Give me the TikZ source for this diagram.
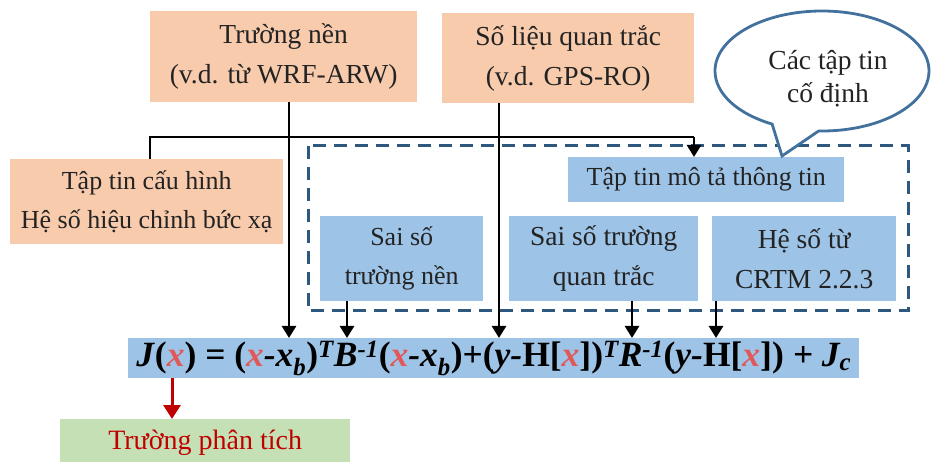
\documentclass[tikz,border=0pt]{standalone}
\usepackage{fontspec}
\setmainfont{Liberation Serif}
\usetikzlibrary{arrows.meta,shapes.callouts,calc}
\definecolor{peach}{RGB}{248,203,173}
\definecolor{skyfill}{RGB}{157,195,230}
\definecolor{mint}{RGB}{197,224,180}
\definecolor{framecol}{RGB}{46,88,125}
\definecolor{bubblecol}{RGB}{65,113,156}
\definecolor{darkred}{RGB}{192,0,0}
\definecolor{xred}{RGB}{226,88,88}
\definecolor{ink}{RGB}{35,35,35}

\begin{document}
\begin{tikzpicture}[x=1pt,y=-1pt,
  box/.style={anchor=north west, inner sep=0pt, align=center,
    font=\fontsize{26}{39}\selectfont, text=ink},
  bigtext/.style={font=\fontsize{27.5}{40}\selectfont},
  peachbox/.style={box, fill=peach},
  bluebox/.style={box, fill=skyfill},
  conn/.style={line width=2.6pt, draw=black},
  arr/.style={conn, -{Triangle[length=12pt,width=14pt]}},
  redarr/.style={line width=3pt, draw=darkred, -{Triangle[length=14pt,width=17pt]}},
  fixedframe/.style={draw=framecol, line width=3pt, dash pattern=on 13pt off 8pt}
]
\useasboundingbox (0,0) rectangle (932,462);

% input boxes
\node[peachbox, bigtext, minimum width=267, minimum height=91] (tn) at (150,11)
  {Trường nền\\(v.d. từ WRF-ARW)};
\node[peachbox, bigtext, minimum width=252, minimum height=90] (obs) at (442,13)
  {Số liệu quan trắc\\(v.d. GPS-RO)};
\node[peachbox, minimum width=273, minimum height=85] (cfg) at (10,159)
  {Tập tin cấu hình\\Hệ số hiệu chỉnh bức xạ};

% frame around the fixed files
\draw[fixedframe] (308,146) rectangle (908,311);

\node[bluebox, minimum width=276, minimum height=45] (info) at (568,157)
  {Tập tin mô tả thông tin};
\node[bluebox, minimum width=163, minimum height=85] (berr) at (320,216)
  {Sai số\\trường nền};
\node[bluebox, bigtext, minimum width=189, minimum height=85] (oerr) at (509,216)
  {Sai số trường\\quan trắc};
\node[bluebox, bigtext, minimum width=184, minimum height=85] (crtm) at (712,216)
  {Hệ số từ\\CRTM 2.2.3};

% cost function
\node[box, fill=skyfill, minimum width=731, minimum height=40,
  font=\fontsize{35.5}{36}\selectfont\bfseries\itshape, text=black] (eq) at (128,338)
  {J\textup{(}\textcolor{xred}{x}\textup{)} = \textup{(}\textcolor{xred}{x}-x\textsubscript{b}\textup{)}\textsuperscript{T}B\textsuperscript{-1}\textup{(}\textcolor{xred}{x}-x\textsubscript{b}\textup{)+(}y-\textup{H[}\textcolor{xred}{x}\textup{])}\textsuperscript{T}R\textsuperscript{-1}\textup{(}y-\textup{H[}\textcolor{xred}{x}\textup{])} + J\textsubscript{c}};

% analysis (box runs past the lower edge)
\node[box, fill=mint, minimum width=290, minimum height=48, text=darkred,
  font=\fontsize{28}{34}\selectfont] (ana) at (60,419)
  {Trường phân tích};

% connector columns
\coordinate (ctn) at (289,0);
\coordinate (cobs) at (499,0);
\coordinate (ccfg) at (150,0);
\coordinate (hb) at (694,137);
\coordinate (cberr) at (347,0);
\coordinate (coerr) at (632,0);
\coordinate (ccrtm) at (716,0);
\coordinate (cx) at (172,0);

\draw[conn] (cfg.north -| ccfg) |- (hb);
\draw[arr] (hb) -- (info.north -| hb);
\draw[arr] (tn.south -| ctn) -- (eq.north -| ctn);
\draw[arr] (obs.south -| cobs) -- (eq.north -| cobs);
\draw[arr] (berr.south -| cberr) -- (eq.north -| cberr);
\draw[arr] (oerr.south -| coerr) -- (eq.north -| coerr);
\draw[arr] (crtm.south -| ccrtm) -- (eq.north -| ccrtm);
\draw[redarr] (eq.south -| cx) -- (ana.north -| cx);

% speech bubble
\node[ellipse callout, draw=bubblecol, line width=2.8pt, fill=white,
  minimum width=214, minimum height=120, inner sep=0pt,
  callout absolute pointer={(782,156)}, callout pointer arc=26] (bub) at (822,71) {};
\node[align=center, inner sep=0pt, font=\fontsize{27.5}{33}\selectfont, text=ink]
  (bubtext) at (828,79) {Các tập tin\\cố định};
\end{tikzpicture}
\end{document}
